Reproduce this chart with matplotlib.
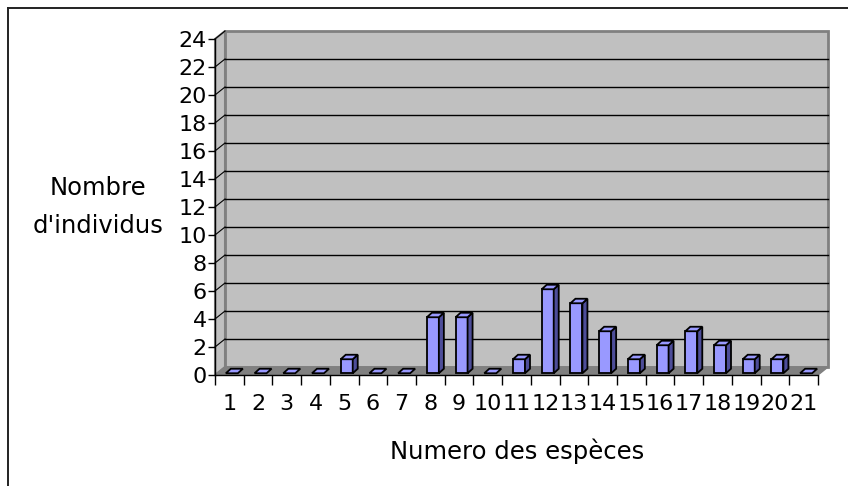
import matplotlib.pyplot as plt
from matplotlib.patches import Polygon, Rectangle
from matplotlib.lines import Line2D

# Données
especes = list(range(1, 22))
individus = [0, 0, 0, 0, 1, 0, 0, 4, 4, 0, 1, 6, 5, 3, 1, 2, 3, 2, 1, 1, 0]
yticks = list(range(0, 25, 2))

plt.rcParams['font.family'] = ['DejaVu Sans']

fig = plt.figure(figsize=(8.48, 4.86), dpi=100)
W, H = 848, 486
ax_left, ax_right, ax_bot, ax_top = 215, 818, 375, 39
ax = fig.add_axes([ax_left / W, 1 - ax_bot / H, (ax_right - ax_left) / W, (ax_bot - ax_top) / H])
ax.set_xlim(0.5, 21.5)
ax.set_ylim(0, 24)
ax.patch.set_visible(False)

# conversion pixels -> données
sx = 21 / (ax_right - ax_left)
sy = 24 / (ax_bot - ax_top)
dx, dy = 10 * sx, 8 * sy          # profondeur des murs
bdx, bdy = 5 * sx, 4.5 * sy       # profondeur des barres
bw = 12 * sx                      # largeur des barres
ox, oy = (dx - bdx) / 2, (dy - bdy) / 2

x0, x1 = 0.5, 21.5
wall = '#C0C0C0'
edge = '#808080'

# mur du fond
ax.add_patch(Rectangle((x0 + dx, dy), x1 - x0, 24, facecolor=wall, edgecolor=edge,
                       lw=2, clip_on=False, zorder=1))
# mur gauche
ax.add_patch(Polygon([(x0, 0), (x0 + dx, dy), (x0 + dx, 24 + dy), (x0, 24)], closed=True,
                     facecolor=wall, edgecolor=edge, lw=1.5, clip_on=False, zorder=1))
# sol
ax.add_patch(Polygon([(x0, 0), (x1, 0), (x1 + dx, dy), (x0 + dx, dy)], closed=True,
                     facecolor='#808080', edgecolor=edge, lw=1, clip_on=False, zorder=1))

# quadrillage
for k in yticks[1:]:
    if k < 24:
        ax.add_line(Line2D([x0 + dx, x1 + dx], [k + dy, k + dy], color='black', lw=1,
                           clip_on=False, zorder=2))
    ax.add_line(Line2D([x0, x0 + dx], [k, k + dy], color='black', lw=0.8,
                       clip_on=False, zorder=2))

# barres 3D
for x, v in zip(especes, individus):
    xl = x - bw / 2 + ox
    xr = xl + bw
    yb = oy
    yt = oy + v
    kw = dict(closed=True, edgecolor='black', lw=1.3, clip_on=False, zorder=3, joinstyle='miter')
    if v > 0:
        ax.add_patch(Polygon([(xl, yb), (xr, yb), (xr, yt), (xl, yt)], facecolor='#9999FF', **kw))
        ax.add_patch(Polygon([(xr, yb), (xr + bdx, yb + bdy), (xr + bdx, yt + bdy), (xr, yt)],
                             facecolor='#4D4D99', **kw))
    ax.add_patch(Polygon([(xl, yt), (xr, yt), (xr + bdx, yt + bdy), (xl + bdx, yt + bdy)],
                         facecolor='#9999FF', **kw))

# axes
for s in ['top', 'right']:
    ax.spines[s].set_visible(False)
for s in ['left', 'bottom']:
    ax.spines[s].set_color('black')
    ax.spines[s].set_linewidth(1)
    ax.spines[s].set_zorder(4)

ax.set_yticks(yticks)
ax.set_yticklabels([str(t) for t in yticks])
ax.set_xticks([i + 0.5 for i in range(0, 22)])
ax.set_xticklabels([])
ax.set_xticks(especes, minor=True)
ax.set_xticklabels([str(e) for e in especes], minor=True)
ax.tick_params(axis='y', direction='out', length=5, width=1, pad=1, labelsize=16)
ax.tick_params(axis='x', which='major', direction='out', length=7, width=1)
ax.tick_params(axis='x', which='minor', length=0, pad=14, labelsize=16)

# titres des axes
fig.text(98 / W, 1 - 207 / H, "Nombre\nd'individus", ha='center', va='center',
         fontsize=17.5, linespacing=1.7)
fig.text(517 / W, 1 - 451 / H, "Numero des espèces", ha='center', va='center', fontsize=17.5)

# cadre du graphique
fig.add_artist(Line2D([8 / W, 1], [1 - 8 / H, 1 - 8 / H], color='#222222', lw=1.4))
fig.add_artist(Line2D([8 / W, 8 / W], [1 - 8 / H, 0], color='#222222', lw=1.4))

fig.savefig('out.png', dpi=100)
